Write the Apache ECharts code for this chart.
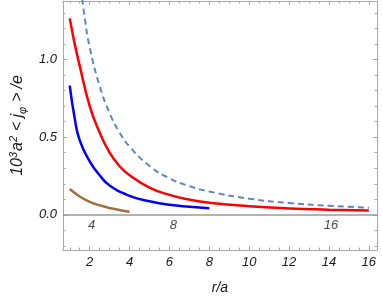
<!DOCTYPE html>
<html><head><meta charset="utf-8">
<script src="https://cdn.jsdelivr.net/npm/echarts@6/dist/echarts.min.js"></script>
<style>html,body{margin:0;padding:0;background:#fff}#c{width:382px;height:300px}</style>
</head><body><div id="c"></div><script>
// ---- data ----
const rBrown = [1, 1.5, 2, 2.5, 3, 3.5, 4];
const brown  = [0.166, 0.118, 0.083, 0.061, 0.044, 0.031, 0.020];

const rBlue = [1, 1.25, 1.5, 2, 2.5, 3, 4, 5, 6, 7, 8];
const blue  = [0.833, 0.62, 0.48, 0.345, 0.255, 0.189, 0.122, 0.087, 0.065, 0.052, 0.042];

const rRed = [1, 1.25, 1.5, 2, 2.5, 3, 3.5, 4, 5, 6, 7, 8, 10, 12, 14, 16];
const red  = [1.266, 1.10, 0.96, 0.70, 0.53, 0.40, 0.313, 0.255, 0.175, 0.128, 0.098, 0.078, 0.055, 0.041, 0.033, 0.027];

const rDash = [1.5, 1.75, 2, 2.5, 3, 3.5, 4, 5, 6, 7, 8, 10, 12, 14, 16];
const dash  = [1.52, 1.27, 1.08, 0.83, 0.655, 0.53, 0.44, 0.315, 0.235, 0.185, 0.15, 0.104, 0.076, 0.058, 0.046];

const curveLabels = ['4', '8', '16'];
const curveLabelX = [2.1, 6.2, 14.1];
const curveLabelY = [-0.07, -0.07, -0.07];

const xMajor = [2, 4, 6, 8, 10, 12, 14, 16];
const xMinor = [1, 1.5, 2.5, 3, 3.5, 4.5, 5, 5.5, 6.5, 7, 7.5, 8.5, 9, 9.5, 10.5, 11, 11.5, 12.5, 13, 13.5, 14.5, 15, 15.5];
const yMajor = [0, 0.5, 1.0];
const yMinor = [-0.2, -0.1, 0.1, 0.2, 0.3, 0.4, 0.6, 0.7, 0.8, 0.9, 1.1, 1.2, 1.3];

const X_MIN = 0.66, X_MAX = 16.41, Y_MIN = -0.227, Y_MAX = 1.378;

// ---- chart ----
const FRAME = '#a8a8a8';
const TXT = '#1a1a1a';
const FONT = 'Liberation Sans, Arial, sans-serif';
const zip = (xs, ys) => xs.map((x, i) => [x, ys[i]]);

function xAx(pos, ticks, len, showLine, labels, extra) {
  return Object.assign({
    type: 'value', position: pos, min: X_MIN, max: X_MAX,
    axisLine: { show: showLine, onZero: false, lineStyle: { color: FRAME, width: 1 } },
    axisTick: { show: true, inside: true, length: len, customValues: ticks, lineStyle: { color: FRAME, width: 1 } },
    axisLabel: labels ? { show: true, customValues: ticks, margin: 6, fontSize: 13, fontStyle: 'italic', fontFamily: FONT, color: TXT } : { show: false },
    splitLine: { show: false }
  }, extra || {});
}
function yAx(pos, ticks, len, showLine, labels, extra) {
  return Object.assign({
    type: 'value', position: pos, min: Y_MIN, max: Y_MAX,
    axisLine: { show: showLine, onZero: false, lineStyle: { color: FRAME, width: 1 } },
    axisTick: { show: true, inside: true, length: len, customValues: ticks, lineStyle: { color: FRAME, width: 1 } },
    axisLabel: labels ? { show: true, customValues: ticks, margin: 6, fontSize: 13, fontStyle: 'italic', fontFamily: FONT, color: TXT, formatter: v => v.toFixed(1) } : { show: false },
    splitLine: { show: false }
  }, extra || {});
}

const it = { fontStyle: 'italic', fontFamily: FONT, color: TXT };
const yName = '{b|10}{sup|3}{b|a}{sup|2}{op|<}{b|j}{sub|φ}{op|>}{b|/e}';

const option = {
  animation: false,
  grid: { left: 52, right: 5, top: 1, bottom: 44, containLabel: false },
  xAxis: [
    xAx('bottom', xMajor, 4, true, true, {
      name: 'r/a', nameLocation: 'middle', nameGap: 31,
      nameTextStyle: Object.assign({ fontSize: 14 }, it)
    }),
    xAx('bottom', xMinor, 2.5, false, false),
    xAx('top', xMajor, 4, true, false),
    xAx('top', xMinor, 2.5, false, false)
  ],
  yAxis: [
    yAx('left', yMajor, 4, true, true, {
      name: yName, nameLocation: 'middle', nameGap: 33, nameRotate: 90,
      nameTextStyle: {
        rich: {
          b: Object.assign({ fontSize: 16, lineHeight: 20, verticalAlign: 'middle' }, it),
          op: Object.assign({ fontSize: 16, lineHeight: 20, verticalAlign: 'middle', padding: [0, 4, 0, 4] }, it),
          sup: Object.assign({ fontSize: 11, lineHeight: 11, verticalAlign: 'top', padding: [0, 1, 0, 0] }, it),
          sub: Object.assign({ fontSize: 11, lineHeight: 11, verticalAlign: 'bottom', padding: [0, 1, 0, 0] }, it)
        }
      }
    }),
    yAx('left', yMinor, 2.5, false, false),
    yAx('right', yMajor, 4, true, false),
    yAx('right', yMinor, 2.5, false, false)
  ],
  series: [
    {
      type: 'line', data: zip(rDash, dash), showSymbol: false, smooth: 0.5,
      lineStyle: { color: '#5f87c2', width: 2, type: [6, 4] }, z: 3
    },
    {
      type: 'line', data: zip(rRed, red), showSymbol: false, smooth: 0.5,
      lineStyle: { color: '#ff0000', width: 2.5 }, z: 4,
      markLine: {
        silent: true, symbol: ['none', 'none'], label: { show: false },
        lineStyle: { color: '#9a9a9a', width: 1.5, type: 'solid' },
        data: [{ yAxis: 0 }], z: 1
      }
    },
    {
      type: 'line', data: zip(rBlue, blue), showSymbol: false, smooth: 0.5,
      lineStyle: { color: '#0000ff', width: 2.5 }, z: 4
    },
    {
      type: 'line', data: zip(rBrown, brown), showSymbol: false, smooth: 0.5,
      lineStyle: { color: '#a0703e', width: 2.5 }, z: 4
    },
    {
      type: 'scatter', symbolSize: 1, itemStyle: { color: 'rgba(0,0,0,0)' },
      data: curveLabels.map((t, i) => ({ name: t, value: [curveLabelX[i], curveLabelY[i]] })),
      label: { show: true, position: 'inside', formatter: '{b}', fontSize: 13, fontStyle: 'italic', fontFamily: FONT, color: TXT },
      z: 5
    }
  ]
};
const chart = echarts.init(document.getElementById('c'), null, { renderer: 'canvas' });
chart.setOption(option);
</script></body></html>
